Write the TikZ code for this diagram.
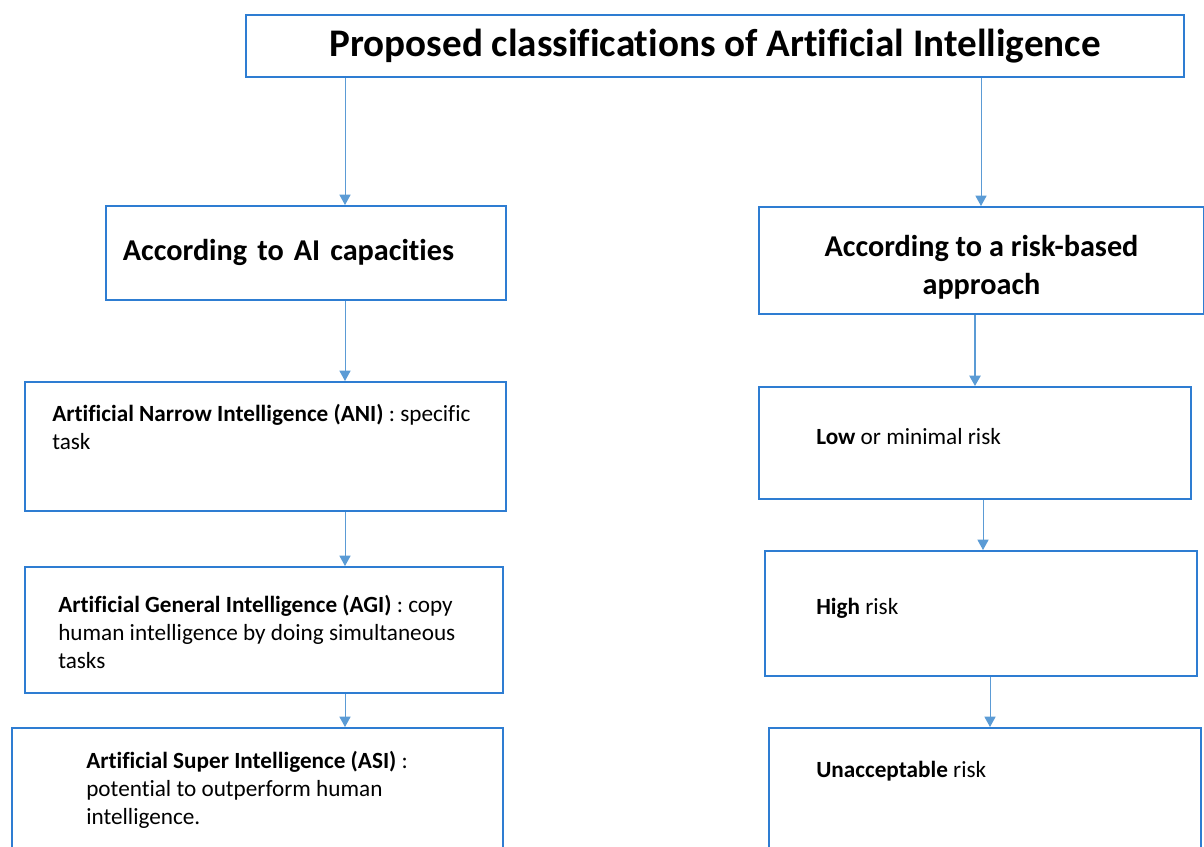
\documentclass[tikz,border=0pt]{standalone}
\usepackage{fontspec}
\setmainfont{Carlito}[Ligatures=CommonOff]
\usetikzlibrary{arrows.meta,positioning}
\definecolor{boxblue}{RGB}{46,125,210}
\definecolor{arrowblue}{RGB}{91,155,213}
\tikzset{%
	box/.style      = {draw=boxblue, line width=1.3pt, rectangle, anchor=north west, inner sep=0pt},
	heading/.style  = {font=\fontsize{21.5}{27}\selectfont\bfseries},
	boxtext/.style  = {inner sep=0pt, align=left, font=\fontsize{16.5}{19.8}\selectfont},
	arrow/.style    = {draw=arrowblue, line width=0.7pt, -{Triangle[length=2.6mm,width=2.8mm]}},
	bigarrow/.style = {arrow, line width=1.4pt},
}
\begin{document}
\begin{tikzpicture}[x=0.025cm,y=-0.025cm]
	\useasboundingbox (0,0) rectangle (1204,847);
	\node [box, minimum width=23.45cm, minimum height=1.55cm, font=\fontsize{27.8}{32}\selectfont\bfseries] (title) at (245,14) {Proposed classifications of Artificial Intelligence};
	% left column
	\node [box, heading, minimum width=10cm, minimum height=2.35cm, text width=9.15cm, inner xsep=0.425cm, align=left] (capac) at (105,205) {According to AI capacities};
	\node [box, minimum width=12.025cm, minimum height=3.225cm] (ani) at (24,381) {};
	\node [box, minimum width=11.95cm, minimum height=3.15cm] (agi) at (24,566) {};
	\node [box, minimum width=12.275cm, minimum height=4cm] (asi) at (11,727) {};
	\node [boxtext, below right=0.57cm and 0.7cm of ani.north west] (anitext) {\textbf{Artificial Narrow Intelligence (ANI)} : specific\\task};
	\node [boxtext, below right=0.73cm and 0.85cm of agi.north west] (agitext) {\textbf{Artificial General Intelligence (AGI)} : copy\\human intelligence by doing simultaneous\\tasks};
	\node [boxtext, below right=0.6cm and 1.875cm of asi.north west] (asitext) {\textbf{Artificial Super Intelligence (ASI)} :\\potential to outperform human\\intelligence.};
	% right column
	\node [box, minimum width=11.125cm, minimum height=2.675cm] (risk) at (758,206) {};
	\node [heading, align=center] (risktext) at ([yshift=-0.18cm]risk.center) {According to a risk-based\\approach};
	\node [box, minimum width=10.8cm, minimum height=2.8cm] (low) at (758,386) {};
	\node [box, minimum width=10.8cm, minimum height=3.125cm] (high) at (764,550) {};
	\node [box, minimum width=10.8cm, minimum height=4cm] (unacc) at (768,727) {};
	\node [boxtext, below right=1.05cm and 1.45cm of low.north west] (lowtext) {\textbf{Low} or minimal risk};
	\node [boxtext, below right=1.2cm and 1.3cm of high.north west] (hightext) {\textbf{High} risk};
	\node [boxtext, below right=0.85cm and 1.2cm of unacc.north west] (unacctext) {\textbf{Unacceptable} risk};

	\coordinate (lcol) at (345,0);
	\coordinate (rcol) at (981,0);
	\coordinate (rcolb) at (975,0);
	\coordinate (rcolc) at (983,0);
	\coordinate (rcold) at (990,0);
	\draw[arrow] (title.south -| lcol) -- (capac.north -| lcol);
	\draw[arrow] (capac.south -| lcol) -- (ani.north -| lcol);
	\draw[arrow] (ani.south -| lcol) -- (agi.north -| lcol);
	\draw[arrow] (agi.south -| lcol) -- (asi.north -| lcol);
	\draw[arrow] (title.south -| rcol) -- (risk.north -| rcol);
	\draw[bigarrow] (risk.south -| rcolb) -- (low.north -| rcolb);
	\draw[arrow] (low.south -| rcolc) -- (high.north -| rcolc);
	\draw[arrow] (high.south -| rcold) -- (unacc.north -| rcold);
\end{tikzpicture}
\end{document}
